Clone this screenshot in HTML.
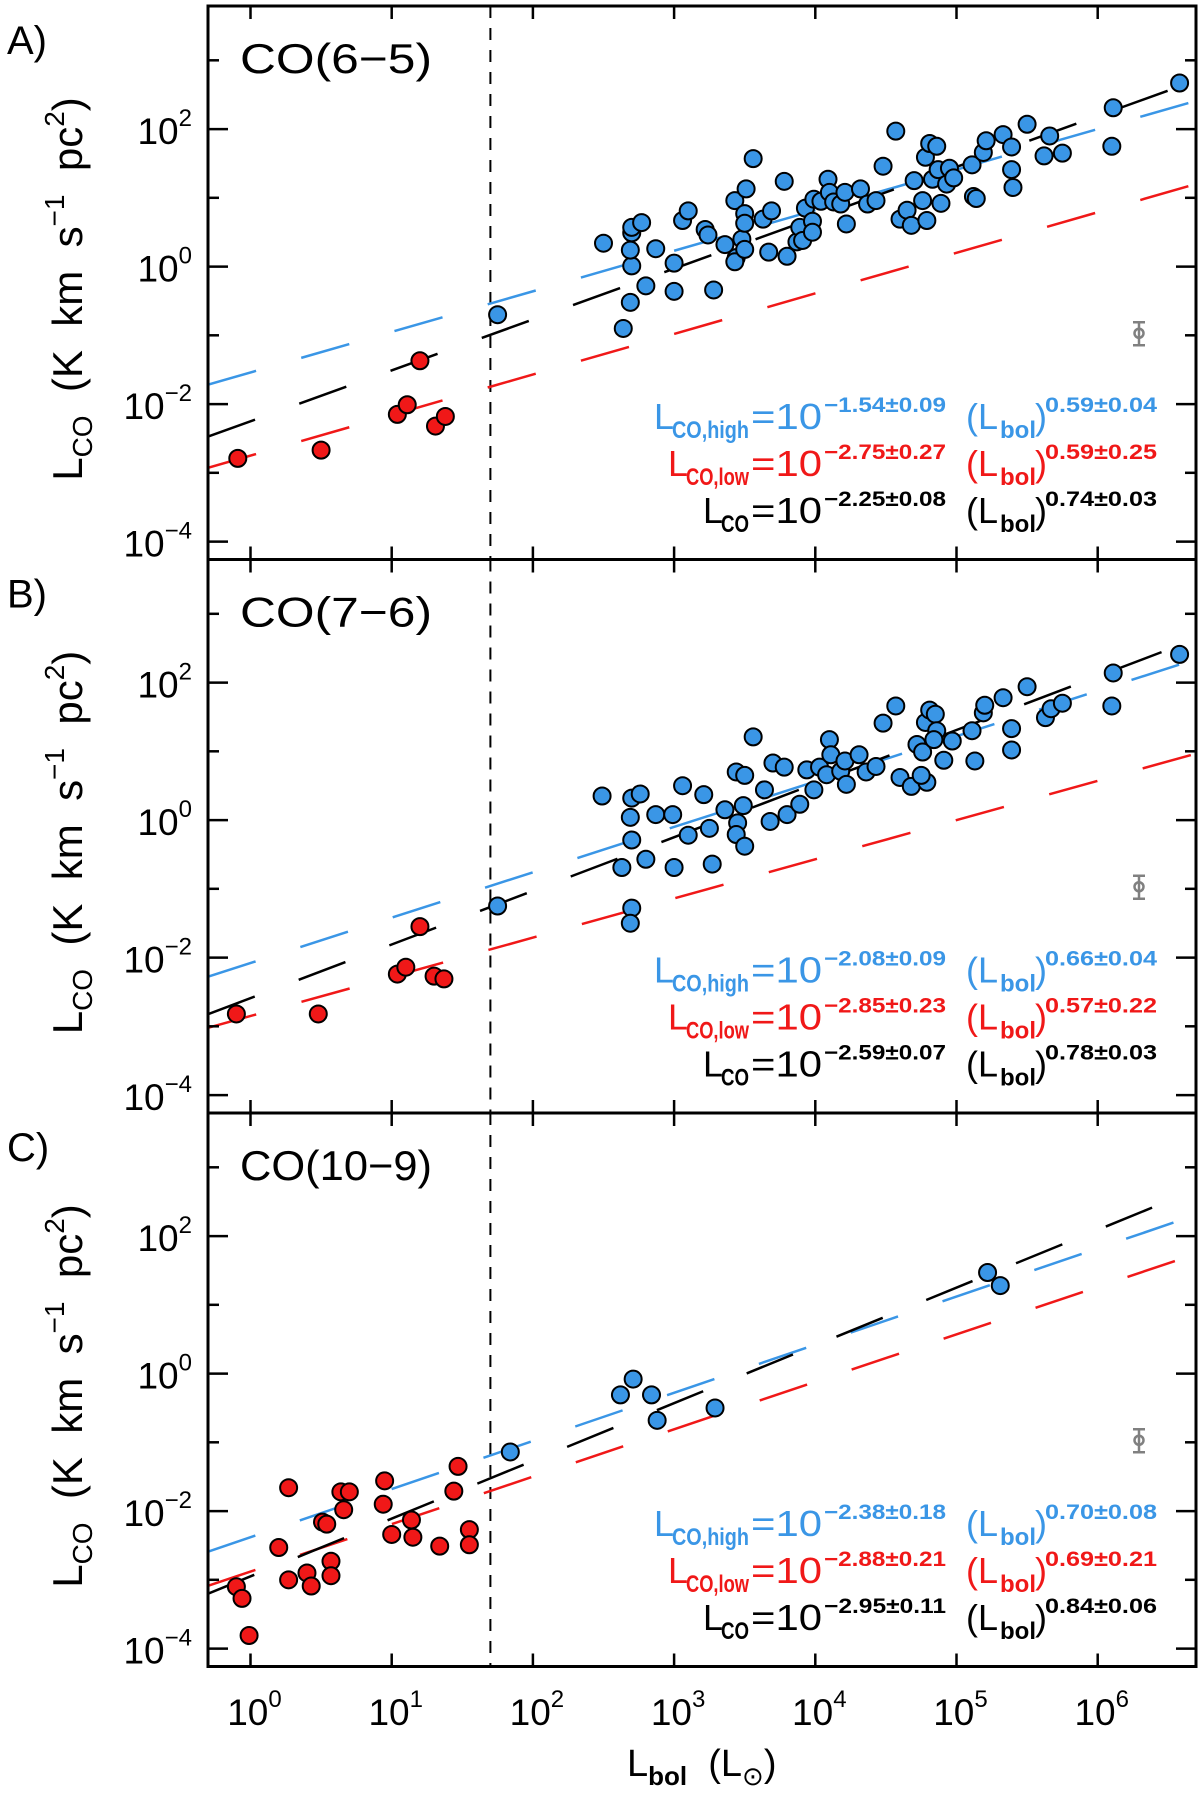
<!DOCTYPE html>
<html><head><meta charset="utf-8"><style>
html,body{margin:0;padding:0;background:#fff}
svg{display:block}
text{font-family:"Liberation Sans",sans-serif}
</style></head><body>
<svg id="chart" xmlns="http://www.w3.org/2000/svg" width="1200" height="1795" viewBox="0 0 1200 1795"></svg>
<script>
// ---- data (log10 values) ----
const panelNames = ["CO(6\u22125)", "CO(7\u22126)", "CO(10\u22129)"];
const panelLetters = ["A)", "B)", "C)"];
const xTickExps = [0,1,2,3,4,5,6];
const yTickExps = [-4,-3,-2,-1,0,1,2,3];
const yLabelExps = [-4,-2,0,2];
// fits: intercept, slope
const fitHighA = [-1.54, 0.59], fitLowA = [-2.75, 0.59], fitAllA = [-2.25, 0.74];
const fitHighB = [-2.08, 0.66], fitLowB = [-2.85, 0.57], fitAllB = [-2.59, 0.78];
const fitHighC = [-2.38, 0.70], fitLowC = [-2.88, 0.69], fitAllC = [-2.95, 0.84];
const eqHighA = ["\u22121.54\u00b10.09","0.59\u00b10.04"], eqLowA = ["\u22122.75\u00b10.27","0.59\u00b10.25"], eqAllA = ["\u22122.25\u00b10.08","0.74\u00b10.03"];
const eqHighB = ["\u22122.08\u00b10.09","0.66\u00b10.04"], eqLowB = ["\u22122.85\u00b10.23","0.57\u00b10.22"], eqAllB = ["\u22122.59\u00b10.07","0.78\u00b10.03"];
const eqHighC = ["\u22122.38\u00b10.18","0.70\u00b10.08"], eqLowC = ["\u22122.88\u00b10.21","0.69\u00b10.21"], eqAllC = ["\u22122.95\u00b10.11","0.84\u00b10.06"];

const redA_x = [-0.09,0.50,1.04,1.11,1.20,1.31,1.38];
const redA_y = [-2.79,-2.67,-2.15,-2.01,-1.37,-2.32,-2.18];
const blueA_x = [1.75,2.50,2.64,2.69,2.70,2.69,2.70,2.70,2.77,2.80,2.87,3.00,3.00,3.06,3.10,3.22,3.24,3.28,3.36,3.43,3.44,3.43,3.48,3.50,3.50,3.50,3.51,3.56,3.63,3.67,3.69,3.78,3.80,3.87,3.89,3.91,3.93,3.98,3.98,3.99,4.04,4.09,4.10,4.13,4.18,4.21,4.22,4.32,4.37,4.43,4.48,4.57,4.60,4.65,4.68,4.70,4.76,4.78,4.79,4.81,4.86,4.83,4.87,4.89,4.93,4.95,4.98,5.11,5.12,5.14,5.19,5.21,5.33,5.39,5.39,5.40,5.50,5.62,5.66,5.75,6.10,6.11,6.58];
const blueA_y = [-0.70,0.34,-0.90,-0.52,0.01,0.24,0.49,0.57,0.64,-0.28,0.26,-0.36,0.05,0.67,0.81,0.54,0.46,-0.34,0.32,0.96,0.13,0.07,0.40,0.77,0.63,0.25,1.13,1.57,0.69,0.21,0.81,1.24,0.15,0.36,0.57,0.38,0.85,0.66,0.50,0.98,0.95,1.27,1.08,0.94,0.91,1.08,0.62,1.13,0.91,0.96,1.46,1.97,0.69,0.82,0.60,1.25,0.96,1.59,0.67,1.79,1.75,1.27,1.41,0.92,1.20,1.43,1.29,1.48,1.02,0.99,1.66,1.83,1.92,1.74,1.41,1.15,2.07,1.61,1.90,1.65,1.75,2.31,2.67];

const redB_x = [-0.10,0.48,1.04,1.10,1.20,1.30,1.37];
const redB_y = [-2.82,-2.82,-2.24,-2.14,-1.55,-2.27,-2.31];
const blueB_x = [1.75,2.49,2.63,2.70,2.76,2.69,2.70,2.70,2.69,2.80,2.87,2.99,3.00,3.06,3.10,3.21,3.25,3.27,3.36,3.44,3.45,3.44,3.50,3.50,3.49,3.56,3.64,3.68,3.70,3.78,3.80,3.89,3.94,3.99,4.03,4.08,4.10,4.11,4.18,4.21,4.22,4.31,4.36,4.43,4.48,4.57,4.60,4.68,4.72,4.76,4.78,4.81,4.85,4.79,4.75,4.86,4.84,4.91,4.97,5.11,5.13,5.19,5.20,5.33,5.39,5.39,5.50,5.63,5.67,5.75,6.10,6.11,6.58];
const blueB_y = [-1.25,0.35,-0.69,0.32,0.38,0.04,-0.29,-1.28,-1.50,-0.57,0.08,0.08,-0.69,0.50,-0.22,0.37,-0.12,-0.64,0.15,0.70,-0.04,-0.21,-0.38,0.65,0.21,1.21,0.44,-0.02,0.83,0.77,0.08,0.23,0.73,0.44,0.77,0.66,1.17,0.95,0.71,0.86,0.52,0.95,0.70,0.78,1.41,1.66,0.62,0.49,1.10,0.99,1.42,1.60,1.54,0.55,0.65,1.30,1.17,0.87,1.15,1.30,0.86,1.56,1.67,1.78,1.33,1.02,1.94,1.49,1.62,1.70,1.66,2.14,2.41];

const redC_x = [-0.10,-0.06,-0.01,0.20,0.27,0.27,0.40,0.43,0.51,0.54,0.57,0.57,0.64,0.70,0.66,0.95,0.94,1.00,1.14,1.15,1.34,1.44,1.47,1.55,1.55];
const redC_y = [-3.10,-3.27,-3.81,-2.53,-1.66,-3.00,-2.90,-3.09,-2.16,-2.19,-2.73,-2.94,-1.72,-1.72,-1.98,-1.56,-1.90,-2.34,-2.13,-2.38,-2.51,-1.71,-1.35,-2.27,-2.49];
const blueC_x = [1.84,2.62,2.71,2.84,2.88,3.29,5.22,5.31];
const blueC_y = [-1.14,-0.31,-0.08,-0.31,-0.68,-0.50,1.47,1.28];

// ---- layout ----
const NS = "http://www.w3.org/2000/svg";
const svg = document.getElementById('chart');
const L = 208, R = 1196, PH = 553.5, TOP0 = 6;
const X0 = 250.5, DX = 141.2, DY = 68.75, YTOP = 3.79;
const xMin = (L - X0) / DX, xMax = (R - X0) / DX;
function xs(v){ return X0 + v * DX; }
function ys(p, v){ return TOP0 + p * PH + (YTOP - v) * DY; }
function mk(tag, attrs, parent){
  const e = document.createElementNS(NS, tag);
  for (const k in attrs) e.setAttribute(k, attrs[k]);
  (parent || svg).appendChild(e);
  return e;
}
const BLUE = "#3a96e6", RED = "#f01818", GREY = "#808080";

const fits = [[fitHighA, fitLowA, fitAllA],[fitHighB, fitLowB, fitAllB],[fitHighC, fitLowC, fitAllC]];
const eqs = [[eqHighA, eqLowA, eqAllA],[eqHighB, eqLowB, eqAllB],[eqHighC, eqLowC, eqAllC]];
const reds = [[redA_x, redA_y],[redB_x, redB_y],[redC_x, redC_y]];
const blues = [[blueA_x, blueA_y],[blueB_x, blueB_y],[blueC_x, blueC_y]];

const defs = mk('defs', {});
for (let p = 0; p < 3; p++) {
  const top = TOP0 + p * PH, bot = top + PH;
  const cp = mk('clipPath', {id: 'clip' + p}, defs);
  mk('rect', {x: L, y: top, width: R - L, height: PH}, cp);

  const g = mk('g', {});
  
  
  const plot = mk('g', {'clip-path': 'url(#clip' + p + ')'}, g);

  const vl = mk('line', {x1: xs(Math.log10(50)), x2: xs(Math.log10(50)), y1: top, y2: bot, stroke: '#000', 'stroke-width': 2, 'stroke-dasharray': '12 10'}, plot);
  
  

  const cols = [BLUE, RED, '#000'];
  const fnames = ['fit-high', 'fit-low', 'fit-all'];
  fits[p].forEach((f, i) => {
    const ln = mk('line', {x1: xs(xMin), y1: ys(p, f[0] + f[1] * xMin), x2: xs(xMax), y2: ys(p, f[0] + f[1] * xMax), stroke: cols[i], 'stroke-width': 2.5, 'stroke-dasharray': '50 47'}, plot);
    
    
  });

  const addPts = (arr, color, name) => {
    for (let i = 0; i < arr[0].length; i++) {
      const c = mk('circle', {cx: xs(arr[0][i]), cy: ys(p, arr[1][i]), r: 8.5, fill: color, stroke: '#000', 'stroke-width': 2}, plot);
      
      
    }
  };
  addPts(reds[p], RED, 'low-lum-point');
  addPts(blues[p], BLUE, 'high-lum-point');

  const ex = 1139, ey = ys(p, -0.97);
  const eb = mk('g', {stroke: GREY, 'stroke-width': 2.5, fill: 'none'}, g);
  
  
  mk('line', {x1: ex, x2: ex, y1: ey - 11, y2: ey + 12}, eb);
  mk('line', {x1: ex - 6, x2: ex + 6, y1: ey - 11, y2: ey - 11}, eb);
  mk('line', {x1: ex - 6, x2: ex + 6, y1: ey + 12, y2: ey + 12}, eb);
  mk('circle', {cx: ex, cy: ey, r: 4.5}, eb);

  const fr = mk('rect', {x: L, y: top, width: R - L, height: PH, fill: 'none', stroke: '#000', 'stroke-width': 3}, g);
  
  

  xTickExps.forEach(e => {
    const x = xs(e);
    mk('line', {x1: x, x2: x, y1: top, y2: top + 13, stroke: '#000', 'stroke-width': 2.5}, g);
    mk('line', {x1: x, x2: x, y1: bot, y2: bot - 13, stroke: '#000', 'stroke-width': 2.5}, g);
  });
  yTickExps.forEach(e => {
    const y = ys(p, e);
    const len = (e % 2 === 0) ? 20 : 11;
    mk('line', {x1: L, x2: L + len, y1: y, y2: y, stroke: '#000', 'stroke-width': 2.5}, g);
    mk('line', {x1: R, x2: R - len, y1: y, y2: y, stroke: '#000', 'stroke-width': 2.5}, g);
  });
  yLabelExps.forEach(e => {
    const t = mk('text', {x: 192, y: ys(p, e) + 15, 'text-anchor': 'end', 'font-size': 37, fill: '#000'}, g);
    
    
    t.appendChild(document.createTextNode('10'));
    const s = mk('tspan', {dy: -18, 'font-size': 24}, t);
    s.textContent = (e < 0 ? '\u2212' + (-e) : String(e));
  });

  const pl = mk('text', {x: 7, y: top + 48, 'font-size': 40, fill: '#000'}, g);
  
  
  pl.textContent = panelLetters[p];
  const pn = mk('text', {x: 240, y: top + 67, 'font-size': 42, fill: '#000', textLength: 192, lengthAdjust: 'spacingAndGlyphs'}, g);
  
  
  pn.textContent = panelNames[p];

  const yt = mk('text', {transform: 'translate(82,' + (top + 283) + ') rotate(-90)', 'text-anchor': 'middle', 'font-size': 42, fill: '#000'}, g);
  
  
  yt.innerHTML = 'L<tspan font-size="28" dy="10">CO</tspan><tspan dy="-10" xml:space="preserve">  (K  km  s</tspan><tspan font-size="28" dy="-18">\u22121</tspan><tspan dy="18" xml:space="preserve">  pc</tspan><tspan font-size="28" dy="-18">2</tspan><tspan dy="18">)</tspan>';

  const rows = [['CO,high', 77, BLUE, 'equation-high'], ['CO,low', 63, RED, 'equation-low'], ['CO', 28, '#000', 'equation-all']];
  rows.forEach((r, i) => {
    const b = top + 423 + i * 47;
    const eg = mk('g', {fill: r[2]}, g);
    
    
    const lx = 749 - r[1] - 18;
    mk('text', {x: lx, y: b, 'font-size': 36}, eg).textContent = 'L';
    mk('text', {x: 749 - r[1], y: b + 9, 'font-size': 24, 'font-weight': 'bold', textLength: r[1], lengthAdjust: 'spacingAndGlyphs'}, eg).textContent = r[0];
    mk('text', {x: 751, y: b, 'font-size': 36, textLength: 71, lengthAdjust: 'spacingAndGlyphs'}, eg).textContent = '=10';
    mk('text', {x: 824, y: b - 17, 'font-size': 21, 'font-weight': 'bold', textLength: 122, lengthAdjust: 'spacingAndGlyphs'}, eg).textContent = eqs[p][i][0];
    mk('text', {x: 966, y: b, 'font-size': 36}, eg).textContent = '(L';
    mk('text', {x: 1000, y: b + 9, 'font-size': 24, 'font-weight': 'bold', textLength: 36, lengthAdjust: 'spacingAndGlyphs'}, eg).textContent = 'bol';
    mk('text', {x: 1035, y: b, 'font-size': 36}, eg).textContent = ')';
    mk('text', {x: 1045, y: b - 17, 'font-size': 21, 'font-weight': 'bold', textLength: 112, lengthAdjust: 'spacingAndGlyphs'}, eg).textContent = eqs[p][i][1];
  });
}

xTickExps.forEach(e => {
  const t = mk('text', {x: xs(e) + 4, y: 1725, 'text-anchor': 'middle', 'font-size': 37, fill: '#000'});
  
  
  t.appendChild(document.createTextNode('10'));
  const s = mk('tspan', {dy: -18, 'font-size': 24}, t);
  s.textContent = String(e);
});
const xt = mk('text', {x: 627, y: 1776, 'font-size': 38, fill: '#000'});


xt.innerHTML = 'L<tspan font-size="26" dy="9" font-weight="bold">bol</tspan><tspan dy="-9" xml:space="preserve">  (L</tspan><tspan font-size="26" dy="9">\u2299</tspan><tspan dy="-9">)</tspan>';
</script>
</body></html>
